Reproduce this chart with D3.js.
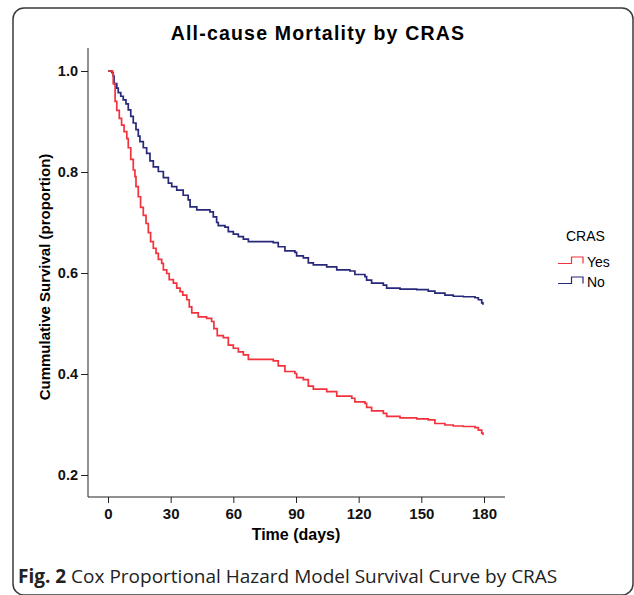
<!DOCTYPE html>
<html><head><meta charset="utf-8">
<script src="https://cdn.jsdelivr.net/npm/d3@7"></script>
<style>body{margin:0;background:#fff}svg{display:block}</style>
</head><body>
<script>
// ---- data ----
const title = "All-cause Mortality by CRAS";
const xTicks = [0, 30, 60, 90, 120, 150, 180];
const yTicks = [0.2, 0.4, 0.6, 0.8, 1.0];
const groups = ["Yes", "No"];
// step times (days) and survival after each step
const noTimes = [0,1.8,2.5,2.9,4.2,4.9,6.1,7.3,8.6,9.7,10.9,12.1,13.4,14.5,15.3,16.9,18.5,20.1,21.7,24.1,26.5,28.9,30.5,32.9,36.0,38.4,39.3,42.5,48.8,50.4,52.0,52.8,56.0,57.6,60.0,62.4,64.8,67.2,79.1,81.5,84.7,89.5,90.3,93.5,95.9,98.3,104.7,109.5,115.8,118.2,123.0,123.8,126.2,131.8,133.4,139.8,147.8,153.3,156.5,161.3,165.3,170.1,175.7,177.3,178.9,179.5];
const noSurv = [1.0,0.997,0.990,0.975,0.966,0.957,0.950,0.943,0.935,0.923,0.910,0.897,0.884,0.871,0.860,0.848,0.837,0.822,0.810,0.801,0.789,0.778,0.771,0.764,0.754,0.745,0.731,0.725,0.721,0.711,0.700,0.694,0.691,0.682,0.677,0.672,0.667,0.662,0.660,0.652,0.644,0.641,0.634,0.630,0.620,0.616,0.612,0.606,0.604,0.597,0.593,0.586,0.580,0.576,0.570,0.568,0.567,0.564,0.560,0.556,0.554,0.553,0.551,0.547,0.541,0.537];
const yesTimes = [0,2.2,2.5,3.4,4.2,5.4,6.5,7.7,9.0,9.7,10.9,12.1,12.9,13.4,14.5,15.6,16.9,18.2,19.3,20.4,21.7,23.0,24.1,25.7,26.5,28.1,29.3,31.3,32.9,34.5,35.8,37.7,38.9,40.1,43.2,47.2,49.6,50.7,52.3,55.2,57.6,60.0,62.4,64.8,67.2,79.1,81.5,84.7,89.5,90.3,93.5,95.9,98.3,104.7,109.5,116.7,118.2,123.0,123.8,126.2,131.8,133.4,139.8,147.8,153.3,156.5,161.3,165.3,170.1,175.7,177.3,178.9,179.5];
const yesSurv = [1.0,0.995,0.975,0.940,0.922,0.906,0.893,0.880,0.866,0.848,0.825,0.804,0.791,0.771,0.751,0.730,0.714,0.698,0.680,0.662,0.649,0.639,0.627,0.619,0.606,0.599,0.587,0.580,0.570,0.563,0.556,0.547,0.533,0.521,0.513,0.510,0.504,0.490,0.476,0.472,0.457,0.451,0.444,0.438,0.429,0.426,0.416,0.405,0.401,0.393,0.389,0.376,0.370,0.365,0.356,0.352,0.345,0.342,0.334,0.327,0.322,0.316,0.313,0.311,0.309,0.302,0.299,0.297,0.296,0.294,0.289,0.283,0.279];

// ---- layout ----
const W = 634, H = 595;
const colors = {Yes: "#f2323c", No: "#28287a"};
const font = "Liberation Sans, Arial, sans-serif";
const svg = d3.select("body").append("svg").attr("width", W).attr("height", H);

svg.append("rect").attr("x", 13).attr("y", 8).attr("width", 620).attr("height", 587)
  .attr("rx", 11).attr("fill", "none").attr("stroke", "#3a3a3a").attr("stroke-width", 1.5);

const x = d3.scaleLinear().domain([0, 180]).range([108, 484]);
const y = d3.scaleLinear().domain([0.2, 1.0]).range([475, 71]);
const axisLeftX = 88, axisTopY = 48, axisBottomY = 497, axisRightX = 505;

// axes lines
svg.append("line").attr("x1", axisLeftX).attr("x2", axisLeftX).attr("y1", axisTopY).attr("y2", axisBottomY)
  .attr("stroke", "#222").attr("stroke-width", 1);
svg.append("line").attr("x1", axisLeftX).attr("x2", axisRightX).attr("y1", axisBottomY).attr("y2", axisBottomY)
  .attr("stroke", "#222").attr("stroke-width", 1);

const gx = svg.append("g").attr("transform", `translate(0,${axisBottomY})`)
  .call(d3.axisBottom(x).tickValues(xTicks).tickSize(6).tickPadding(5).tickFormat(d3.format("d")));
gx.select(".domain").remove();
gx.selectAll("text").attr("font-family", font).attr("font-size", 15).attr("font-weight", "bold").attr("fill", "#111");
gx.selectAll("line").attr("stroke", "#222");

const gy = svg.append("g").attr("transform", `translate(${axisLeftX},0)`)
  .call(d3.axisLeft(y).tickValues(yTicks).tickSize(7).tickPadding(3).tickFormat(d3.format(".1f")));
gy.select(".domain").remove();
gy.selectAll("text").attr("font-family", font).attr("font-size", 14.5).attr("font-weight", "bold").attr("fill", "#111");
gy.selectAll("line").attr("stroke", "#222");

// curves
const line = d3.line().x(d => x(d[0])).y(d => y(d[1])).curve(d3.curveStepAfter);
const series = {Yes: d3.zip(yesTimes, yesSurv), No: d3.zip(noTimes, noSurv)};
["No", "Yes"].forEach(g => {
  svg.append("path").attr("d", line(series[g])).attr("fill", "none")
    .attr("stroke", colors[g]).attr("stroke-width", 1.7);
});

// title
svg.append("text").attr("x", 318).attr("y", 40).attr("text-anchor", "middle")
  .attr("font-family", font).attr("font-weight", "bold").attr("font-size", 19.5)
  .attr("letter-spacing", 1.2).text(title);

// axis titles
svg.append("text").attr("x", 296).attr("y", 540).attr("text-anchor", "middle")
  .attr("font-family", font).attr("font-weight", "bold").attr("font-size", 16).text("Time (days)");
svg.append("text").attr("transform", "translate(50,277) rotate(-90)").attr("text-anchor", "middle")
  .attr("font-family", font).attr("font-weight", "bold").attr("font-size", 15)
  .text("Cummulative Survival (proportion)");

// legend
svg.append("text").attr("x", 566).attr("y", 241).attr("font-family", font).attr("font-size", 14).text("CRAS");
groups.forEach((g, i) => {
  const yb = 263.5 + i * 20, yt = yb - 6.5;
  svg.append("path").attr("d", `M558,${yb}H571.5V${yt}H583V${yb}`).attr("fill", "none")
    .attr("stroke", colors[g]).attr("stroke-width", 1.2);
  svg.append("text").attr("x", 587).attr("y", yb + 3).attr("font-family", font).attr("font-size", 14).text(g);
});

// caption
const cap = svg.append("text").attr("x", 18).attr("y", 583).attr("font-family", "Open Sans, sans-serif")
  .attr("font-size", 19).attr("fill", "#222");
cap.append("tspan").attr("font-weight", "bold").text("Fig. 2");
cap.append("tspan").text(" Cox Proportional Hazard Model Survival Curve by CRAS");
</script>
</body></html>
